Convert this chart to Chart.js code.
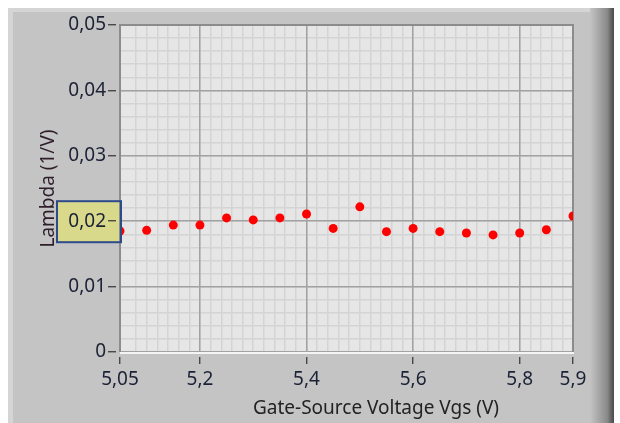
<!DOCTYPE html>
<html>
<head>
<meta charset="utf-8">
<title>Lambda vs Vgs</title>
<script src="https://cdn.jsdelivr.net/npm/chart.js@4.4.1/dist/chart.umd.min.js"></script>
<style>
  html, body { margin: 0; padding: 0; background: #ffffff; }
  #wrap { width: 620px; height: 423px; }
</style>
</head>
<body>
<div id="wrap"><canvas id="lambdaChart" width="620" height="423"></canvas></div>
<script>
// Measured channel-length modulation (lambda) per gate-source voltage
const vgsValues = [5.05, 5.1, 5.15, 5.2, 5.25, 5.3, 5.35, 5.4, 5.45, 5.5, 5.55, 5.6, 5.65, 5.7, 5.75, 5.8, 5.85, 5.9];
const lambdaValues = [0.0185, 0.0186, 0.0194, 0.0194, 0.0205, 0.0202, 0.0205, 0.0211, 0.0189, 0.0222,
                      0.0184, 0.0189, 0.0184, 0.0182, 0.0179, 0.0182, 0.0187, 0.0208];

const xTickValues = [5.05, 5.2, 5.4, 5.6, 5.8, 5.9];
const xTickLabels = ['5,05', '5,2', '5,4', '5,6', '5,8', '5,9'];
const yTickValues = [0, 0.01, 0.02, 0.03, 0.04, 0.05];
const yTickLabels = ['0', '0,01', '0,02', '0,03', '0,04', '0,05'];
const highlightedTick = 0.02;

const xTitle = 'Gate-Source Voltage Vgs (V)';
const yTitle = 'Lambda (1/V)';

const FONT = "'Noto Sans', 'Open Sans', sans-serif";

/**
 * LabVIEW-style panel: grey frame, plot background, highlighted label box, x title
 */
const panelPlugin = {
  id: 'labviewPanel',
  beforeDraw(chart) {
    const { ctx, chartArea: a } = chart;
    const h = chart.height;
    ctx.save();
    ctx.fillStyle = '#ffffff';
    ctx.fillRect(0, 0, chart.width, h);

    ctx.fillStyle = '#c4c4c4';
    ctx.fillRect(8, 8, 606, h - 8);
    ctx.fillStyle = '#d5d5d5';
    ctx.fillRect(8, 8, 600, 4);
    ctx.fillRect(8, 8, 5, h - 8);

    const bevel = ctx.createLinearGradient(590, 0, 613, 0);
    bevel.addColorStop(0, '#c4c4c4');
    bevel.addColorStop(0.75, '#8a8a8a');
    bevel.addColorStop(1, '#505050');
    ctx.fillStyle = bevel;
    ctx.fillRect(590, 8, 24, h - 8);

    ctx.fillStyle = '#e6e6e6';
    ctx.fillRect(a.left, a.top, a.right - a.left, a.bottom - a.top);

    const yHi = chart.scales.y.getPixelForValue(highlightedTick);
    ctx.fillStyle = '#d9d98c';
    ctx.fillRect(57, yHi - 20, 64, 41);
    ctx.restore();
  },
  beforeDatasetsDraw(chart) {
    const { ctx, chartArea: a } = chart;
    ctx.save();
    ctx.lineWidth = 2;
    ctx.strokeStyle = '#8c8c8c';
    ctx.beginPath();
    ctx.moveTo(a.left, a.bottom);
    ctx.lineTo(a.left, a.top);
    ctx.lineTo(a.right, a.top);
    ctx.lineTo(a.right, a.bottom);
    ctx.stroke();
    ctx.strokeStyle = '#f4f4f4';
    ctx.beginPath();
    ctx.moveTo(a.left, a.bottom + 1);
    ctx.lineTo(a.right + 1, a.bottom + 1);
    ctx.stroke();
    ctx.restore();
  },
  afterDatasetsDraw(chart) {
    const { ctx } = chart;
    const yHi = chart.scales.y.getPixelForValue(highlightedTick);
    ctx.save();
    ctx.strokeStyle = '#2d4a8a';
    ctx.lineWidth = 2;
    ctx.strokeRect(57, yHi - 20, 64, 41);
    ctx.restore();
  },
  afterDraw(chart) {
    const { ctx } = chart;
    ctx.save();
    ctx.font = `19px ${FONT}`;
    ctx.fillStyle = '#222222';
    ctx.textAlign = 'center';
    ctx.textBaseline = 'alphabetic';
    ctx.fillText(xTitle, 376, 414);
    ctx.restore();
  }
};

const ctx = document.getElementById('lambdaChart');

new Chart(ctx, {
  type: 'scatter',
  data: {
    datasets: [{
      label: 'Lambda',
      data: vgsValues.map((v, i) => ({ x: v, y: lambdaValues[i] })),
      backgroundColor: '#ff0000',
      borderWidth: 0,
      pointRadius: 4.5,
      pointHoverRadius: 4.5,
      showLine: false,
      clip: 0
    }]
  },
  options: {
    responsive: false,
    animation: false,
    events: [],
    layout: {
      padding: { top: 25, right: 47, left: 0, bottom: 0 }
    },
    plugins: {
      legend: { display: false },
      tooltip: { enabled: false }
    },
    scales: {
      xMinor: {
        type: 'linear',
        position: 'bottom',
        min: 5.05,
        max: 5.9,
        afterFit: (scale) => { scale.height = 0; },
        ticks: { display: false, stepSize: 0.02 },
        grid: { color: '#d4d4d4', lineWidth: 1.5, drawTicks: false, z: -2 },
        border: { display: false }
      },
      yMinor: {
        type: 'linear',
        position: 'left',
        min: 0,
        max: 0.05,
        afterFit: (scale) => { scale.width = 0; },
        ticks: { display: false, stepSize: 0.002 },
        grid: { color: '#d4d4d4', lineWidth: 1.5, drawTicks: false, z: -2 },
        border: { display: false }
      },
      x: {
        type: 'linear',
        position: 'bottom',
        min: 5.05,
        max: 5.9,
        afterFit: (scale) => { scale.height = 71; },
        afterBuildTicks: (scale) => { scale.ticks = xTickValues.map(v => ({ value: v })); },
        ticks: {
          autoSkip: false,
          maxRotation: 0,
          padding: 4,
          color: '#1c2236',
          font: { family: FONT, size: 19 },
          callback: (value, index) => xTickLabels[index]
        },
        grid: {
          color: '#a2a2a2',
          lineWidth: 1.5,
          tickLength: 12,
          tickColor: '#333333',
          tickWidth: 1.2,
          tickBorderDash: [0, 5, 7, 100]
        },
        border: { display: false }
      },
      y: {
        type: 'linear',
        position: 'left',
        min: 0,
        max: 0.05,
        afterFit: (scale) => { scale.width = 120; },
        afterBuildTicks: (scale) => { scale.ticks = yTickValues.map(v => ({ value: v })); },
        ticks: {
          padding: 2,
          color: '#1c2236',
          font: { family: FONT, size: 19 },
          callback: (value, index) => yTickLabels[index]
        },
        grid: {
          color: '#a2a2a2',
          lineWidth: 1.5,
          tickLength: 12,
          tickColor: '#333333',
          tickWidth: 1.2,
          tickBorderDash: [8, 100]
        },
        border: { display: false },
        title: {
          display: true,
          text: yTitle,
          color: '#2e1e2a',
          font: { family: FONT, size: 19 },
          padding: { top: 37, bottom: 0 }
        }
      }
    }
  },
  plugins: [panelPlugin]
});
</script>
</body>
</html>
